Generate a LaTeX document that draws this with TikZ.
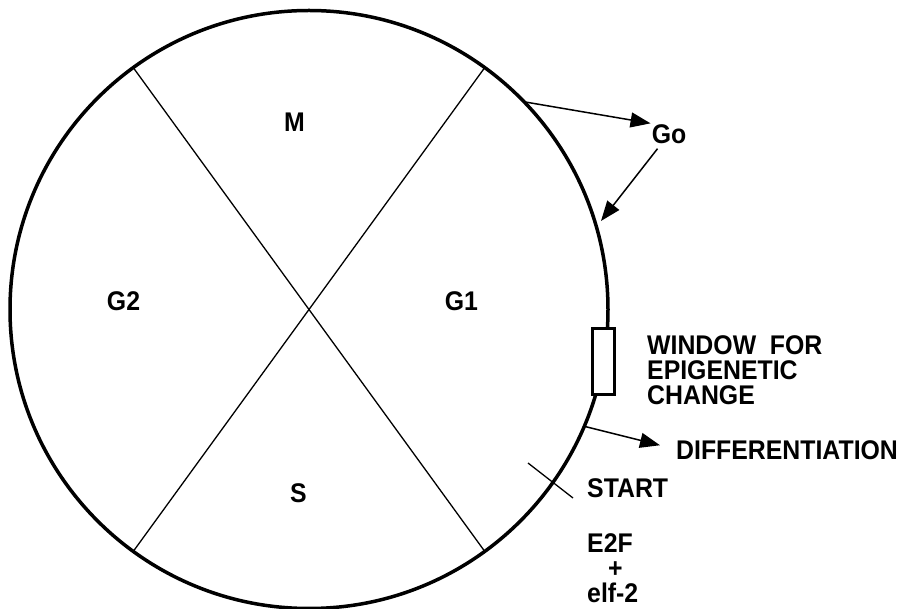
\documentclass[tikz,border=0pt]{standalone}
\usepackage{fontspec}
\setmainfont{Liberation Sans}[FakeStretch=0.92]
\usetikzlibrary{arrows.meta,calc}
\begin{document}
\begin{tikzpicture}[x=1pt,y=-1pt,
  lab/.style={font=\bfseries\fontsize{27}{25}\selectfont, inner sep=0pt},
  side/.style={lab, anchor=north west, align=left},
  arr/.style={line width=1.5pt, -{Triangle[length=20pt,width=15pt]}},
  cross/.style={line width=1.3pt},
]
\useasboundingbox (0,0) rectangle (906,609);
\node[circle, draw, line width=3.5pt, minimum size=598pt, inner sep=0pt, outer sep=0pt] (O) at (309,309.5) {};
\draw[cross] (O.126) -- (O.-54);
\draw[cross] (O.54) -- (O.-126);
\node[draw, fill=white, line width=3pt, minimum width=22pt, minimum height=66pt, inner sep=0pt, outer sep=0pt] (W) at (O.-10) {};

\node[lab] (M) at (294.5,122.5) {M};
\node[lab] (G2) at (123.5,301.7) {G2};
\node[lab] (G1) at (461.4,301.7) {G1};
\node[lab] (S) at (298.4,493.4) {S};
\node[lab, inner sep=1pt] (Go) at (669,134) {Go};

\node[side] (win) at (647,335) {WINDOW\ \ FOR\\EPIGENETIC\\CHANGE};
\node[side] (D) at (676,440) {DIFFERENTIATION};
\node[side] (st) at (587,478) {START};
\node[side] (e2f) at (587,533) {E2F\\\hspace*{21pt}+\\elf-2};

\coordinate (gin) at (601,221);
\coordinate (s1) at (528,463);
\coordinate (s2) at (573,498);

\draw[arr] (O.44) -- (Go.150);
\draw[arr, shorten <=5pt] (Go) -- (gin);
\draw[arr] (O.-23) -- ([xshift=-16pt,yshift=4.5pt]D.west);
\draw[cross] (s1) -- (s2);
\end{tikzpicture}
\end{document}
